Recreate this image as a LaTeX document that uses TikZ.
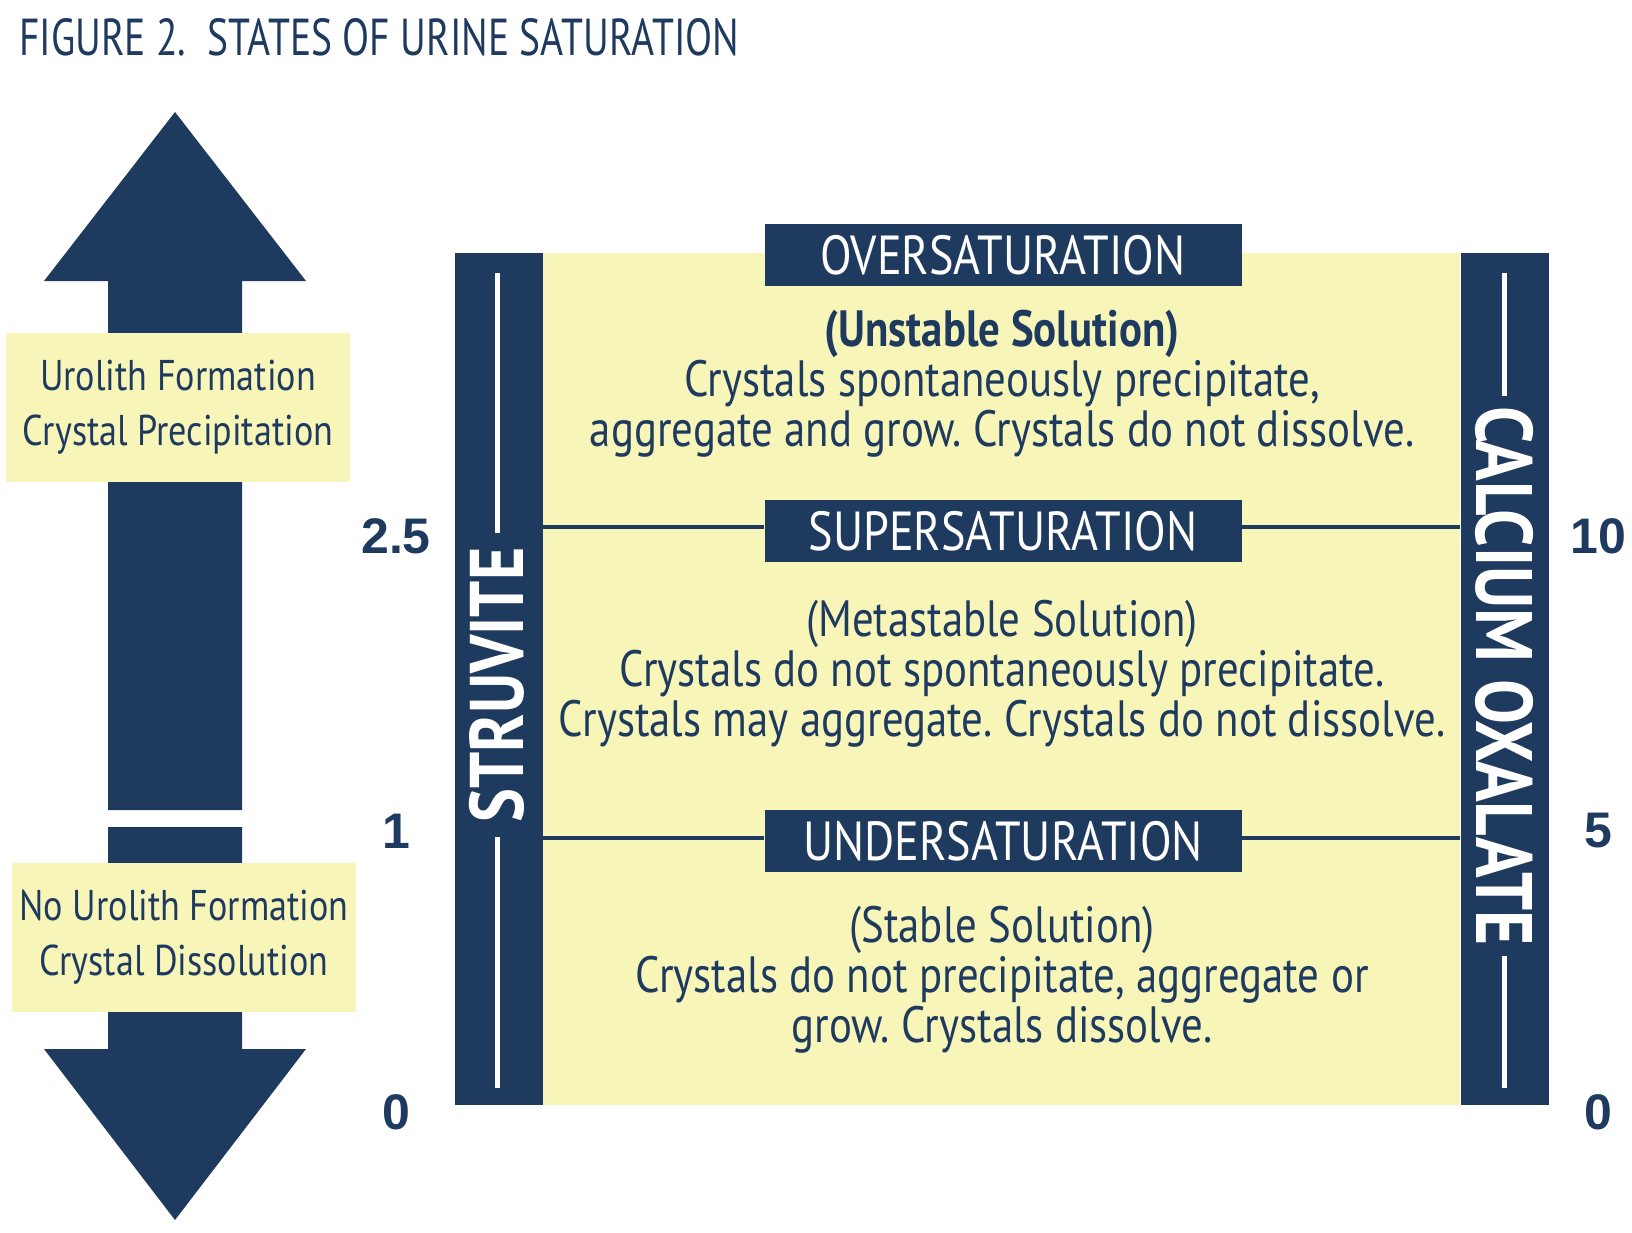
\documentclass[tikz,border=0pt]{standalone}
\usepackage{fontspec}
\setmainfont{PT Sans}[FakeStretch=0.84]
\newfontfamily\titlefont{PT Sans}[FakeStretch=0.76]
\newfontfamily\numfont{Liberation Sans}
\definecolor{navy}{HTML}{1E3A5F}
\definecolor{cream}{HTML}{F8F5B9}
\frenchspacing
\tikzset{
  bar/.style={fill=navy,minimum width=88,minimum height=852,inner sep=0pt},
  headbox/.style={fill=navy,text=white,minimum width=477,minimum height=62,inner sep=0pt,
    font=\fontsize{55}{55}\selectfont},
  tagbox/.style={fill=cream,text=navy,minimum width=344,minimum height=149,inner sep=0pt,
    align=center,font=\fontsize{43}{55}\selectfont},
  bodytext/.style={text=navy,align=center,inner sep=0pt,font=\fontsize{51}{50}\selectfont},
  sidelabel/.style={text=white,inner sep=0pt,font=\bfseries\fontsize{76}{76}\selectfont},
  divider/.style={navy,line width=4pt},
  whiteline/.style={white,line width=5pt},
  scalenum/.style={text=navy,inner sep=0pt,font=\numfont\bfseries\fontsize{50}{50}\selectfont}
}
\begin{document}
\begin{tikzpicture}[x=1pt,y=-1pt]
\useasboundingbox (0,0) rectangle (1632,1232);
\node[anchor=west,text=navy,inner sep=0pt,font=\titlefont\fontsize{52}{52}\selectfont] (title) at (19,37)
  {FIGURE 2.\ \ STATES OF URINE SATURATION};
% double arrow on the left
\fill[navy] (175,112) -- (306,281) -- (242,281) -- (242,810) -- (108,810) -- (108,281) -- (44,281) -- cycle;
\fill[navy] (108,827) -- (242,827) -- (242,1049) -- (306,1049) -- (175,1220) -- (44,1049) -- (108,1049) -- cycle;
\node[tagbox] (form) at (178,407) {Urolith Formation\\Crystal Precipitation};
\node[tagbox] (noform) at (184,937) {No Urolith Formation\\Crystal Dissolution};
% chart
\node[fill=cream,minimum width=917,minimum height=852,inner sep=0pt] (panel) at (1001.5,679) {};
\node[bar] (struvbar) at (499,679) {};
\node[bar] (calbar) at (1504.5,679) {};
\node[headbox] (over) at (1003,255) {OVERSATURATION};
\node[headbox] (super) at (1003,531) {SUPERSATURATION};
\node[headbox] (under) at (1003,841) {UNDERSATURATION};
\draw[divider] ([yshift=4pt]panel.west |- super) -- ([yshift=4pt]super.west);
\draw[divider] ([yshift=4pt]super.east) -- ([yshift=4pt]panel.east |- super);
\draw[divider] ([yshift=3pt]panel.west |- under) -- ([yshift=3pt]under.west);
\draw[divider] ([yshift=3pt]under.east) -- ([yshift=3pt]panel.east |- under);
\node[bodytext] (unstable) at (1002,384)
  {\textbf{(Unstable Solution)}\\Crystals spontaneously precipitate,\\aggregate and grow. Crystals do not dissolve.};
\node[bodytext] (metastable) at (1002,674)
  {(Metastable Solution)\\Crystals do not spontaneously precipitate.\\Crystals may aggregate. Crystals do not dissolve.};
\node[bodytext] (stable) at (1002,980)
  {(Stable Solution)\\Crystals do not precipitate, aggregate or\\grow. Crystals dissolve.};
% side labels
\node[sidelabel,rotate=90] (struvite) at (497,685) {STRUVITE};
\node[sidelabel,rotate=-90,font=\bfseries\fontsize{80}{80}\selectfont] (calox) at (1504,676) {CALCIUM OXALATE};
\draw[whiteline] ([yshift=14pt]struvite.east) -- ([yshift=-20pt]struvite.east |- struvbar.north);
\draw[whiteline] ([yshift=-14pt]struvite.west) -- ([yshift=17pt]struvite.west |- struvbar.south);
\draw[whiteline] ([yshift=10pt]calox.west) -- ([yshift=-20pt]calox.west |- calbar.north);
\draw[whiteline] ([yshift=-10pt]calox.east) -- ([yshift=17pt]calox.east |- calbar.south);
\foreach \y/\l/\r in {536/2.5/10, 831/1/5, 1112/0/0}
  {\node[scalenum] (left\y) at (396,\y) {\l};
   \node[scalenum] (right\y) at (1598,\y) {\r};}
\end{tikzpicture}
\end{document}
